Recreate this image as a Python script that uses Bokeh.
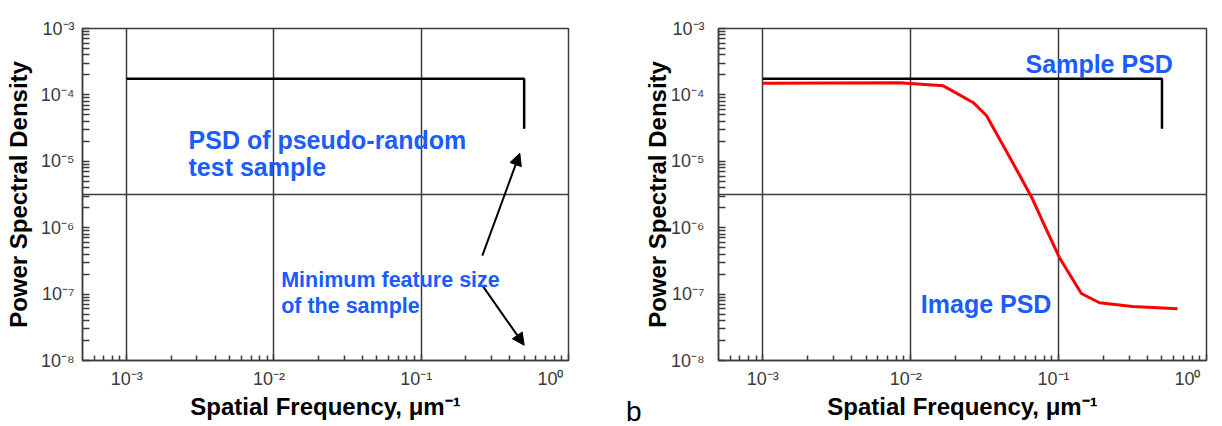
from bokeh.plotting import figure
from bokeh.layouts import row
from bokeh.models import (FixedTicker, CustomJSTickFormatter, Label, Arrow,
                          NormalHead, Range1d)
from bokeh.embed import file_html
from bokeh.resources import INLINE

# ---------------- data ----------------
x_ticks = [1e-3, 1e-2, 1e-1, 1e0]
x_tick_labels = ["10⁻³", "10⁻²", "10⁻¹", "10⁰"]
y_ticks = [1e-8, 1e-7, 1e-6, 1e-5, 1e-4, 1e-3]
y_tick_labels = ["10⁻⁸", "10⁻⁷", "10⁻⁶", "10⁻⁵", "10⁻⁴", "10⁻³"]
h_grid_lines = [10 ** -5.5]

sample_x = [1e-3, 0.5, 0.5]
sample_y = [1.75e-4, 1.75e-4, 3.1e-5]

image_x = [0.001, 0.0084, 0.0166, 0.0194, 0.0264, 0.0325, 0.0467, 0.0654,
           0.078, 0.1016, 0.1425, 0.189, 0.316, 0.637]
image_y = [1.5e-4, 1.53e-4, 1.37e-4, 1.13e-4, 7.7e-5, 4.9e-5, 1.15e-5, 2.93e-6,
           1.24e-6, 3.5e-7, 1.02e-7, 7.4e-8, 6.5e-8, 6.0e-8]

# annotation arrows (left panel): start -> end
arrow_x_start = [0.26, 0.26]
arrow_y_start = [3.8e-7, 1.35e-7]
arrow_x_end = [0.467, 0.5]
arrow_y_end = [1.32e-5, 1.7e-8]

panel_letter = "b"

FONT = "Liberation Sans"
BLUE = "#1a5cff"
AX = "#3c3c3c"

x_minor = [k * 10.0 ** e for e in range(-4, 0) for k in range(2, 10)]
y_minor = [k * 10.0 ** e for e in range(-8, -3) for k in range(2, 10)]

FMT_CODE = """
let best = 0, bd = 1e9;
for (let i = 0; i < tvals.length; i++) {
  const d = Math.abs(Math.log10(tick) - Math.log10(tvals[i]));
  if (d < bd) { bd = d; best = i; }
}
return bd < 1e-6 ? tlabels[best] + tpads[best] : "";
"""


def make_fig(mb_left, frame_w, mb_right, y_label_standoff, y_axis_label_standoff):
    p = figure(x_axis_type="log", y_axis_type="log",
               x_range=Range1d(10 ** -3.3, 1.0), y_range=Range1d(1e-8, 1e-3),
               frame_width=frame_w, frame_height=332,
               min_border_left=mb_left, min_border_right=mb_right,
               min_border_top=28, min_border_bottom=64,
               output_backend="svg", toolbar_location=None)
    p.background_fill_color = "white"
    p.border_fill_color = "white"
    p.outline_line_color = AX
    p.outline_line_width = 1.5

    p.xaxis.ticker = FixedTicker(ticks=x_ticks, minor_ticks=x_minor)
    p.yaxis.ticker = FixedTicker(ticks=y_ticks, minor_ticks=y_minor)
    p.xaxis.formatter = CustomJSTickFormatter(
        args=dict(tvals=x_ticks, tlabels=x_tick_labels,
                  tpads=["", "\u2007", "\u2007", "\u2007\u2007"]),
        code=FMT_CODE)
    p.yaxis.formatter = CustomJSTickFormatter(
        args=dict(tvals=y_ticks, tlabels=y_tick_labels,
                  tpads=["", "", "", "", "", ""]),
        code=FMT_CODE)

    for ax in (p.xaxis[0], p.yaxis[0]):
        ax.axis_line_color = AX
        ax.axis_line_width = 1.5
        ax.major_tick_line_color = AX
        ax.minor_tick_line_color = AX
        ax.major_tick_line_width = 1.5
        ax.minor_tick_line_width = 1.5
        ax.major_tick_out = 0
        ax.minor_tick_out = 0
        ax.major_label_text_font = FONT
        ax.major_label_text_font_size = "18px"
        ax.major_label_text_color = "#3a3a3a"
        ax.axis_label_text_font = FONT
        ax.axis_label_text_font_size = "24px"
        ax.axis_label_text_font_style = "bold"
        ax.axis_label_text_color = "black"
    p.xaxis.major_tick_in = 6
    p.xaxis.minor_tick_in = 5
    p.yaxis.major_tick_in = 7
    p.yaxis.minor_tick_in = 7
    p.xaxis.major_label_standoff = 8
    p.xaxis.axis_label_standoff = 1
    p.yaxis.major_label_standoff = y_label_standoff
    p.yaxis.axis_label_standoff = y_axis_label_standoff
    p.xaxis.axis_label = "Spatial Frequency, μm⁻¹"
    p.yaxis.axis_label = "Power Spectral Density"

    p.xgrid.ticker = FixedTicker(ticks=x_ticks)
    p.ygrid.ticker = FixedTicker(ticks=h_grid_lines)
    for g in (p.xgrid[0], p.ygrid[0]):
        g.grid_line_color = AX
        g.grid_line_width = 1.5
        g.grid_line_alpha = 1.0

    p.line(sample_x, sample_y, line_color="black", line_width=2.5)
    return p


def blue_label(p, x, y, text, size):
    p.add_layout(Label(x=x, y=y, text=text, text_font=FONT,
                       text_font_style="bold", text_font_size=size,
                       text_color=BLUE, text_baseline="alphabetic",
                       text_align="left"))


# ---------------- left panel ----------------
p1 = make_fig(82, 486, 15, 8, 6)
for xs, ys, xe, ye in zip(arrow_x_start, arrow_y_start, arrow_x_end, arrow_y_end):
    p1.add_layout(Arrow(end=NormalHead(size=12, fill_color="black",
                                       line_color="black", line_width=1),
                        x_start=xs, y_start=ys, x_end=xe, y_end=ye,
                        line_color="black", line_width=2))

blue_label(p1, 0.00263, 2.11e-5, "PSD of pseudo-random", "25px")
blue_label(p1, 0.00263, 8.15e-6, "test sample", "25px")
blue_label(p1, 0.01119, 1.64e-7, "Minimum feature size", "21.5px")
blue_label(p1, 0.01119, 6.73e-8, "of the sample", "21.5px")

# ---------------- right panel ----------------
p2 = make_fig(135, 488, 14, 14, -3)
p2.line(image_x, image_y, line_color="#ff0000", line_width=3)
blue_label(p2, 0.0598, 2.89e-4, "Sample PSD", "25px")
blue_label(p2, 0.0117, 7.2e-8, "Image PSD", "25px")

layout = row(p1, p2)
html = file_html(layout, INLINE)

# panel letter sits outside both plot frames (in the gap under the right y-axis)
letter_div = (
    '<div style="position:absolute; left:626px; top:400px; height:24px; '
    'line-height:24px; font-family:\'Liberation Sans\'; font-size:28px; '
    'color:black;">' + panel_letter + '</div>'
)
html = html.replace("</body>", letter_div + "</body>")
open("out.html", "w").write(html)
